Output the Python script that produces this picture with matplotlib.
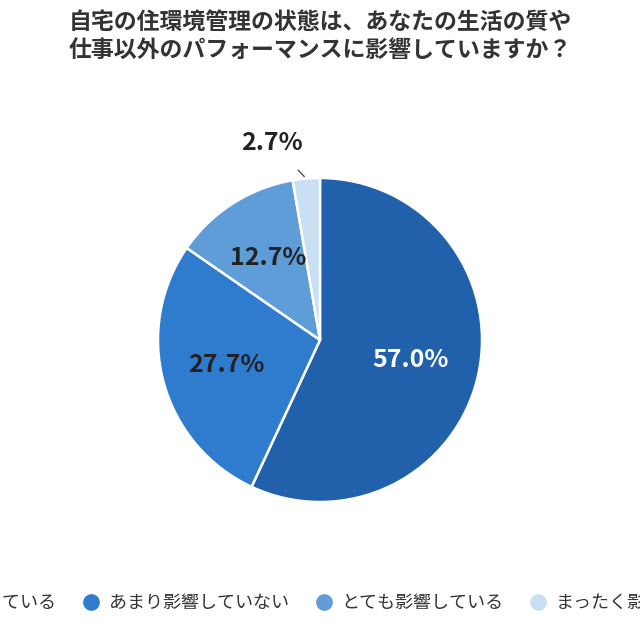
import numpy as np
import matplotlib
matplotlib.use('Agg')
import matplotlib.pyplot as plt

plt.rcParams['font.family'] = ['Noto Sans CJK JP', 'DejaVu Sans']

title = '自宅の住環境管理の状態は、あなたの生活の質や\n仕事以外のパフォーマンスに影響していますか？'
categories = ['やや影響している', 'あまり影響していない', 'とても影響している', 'まったく影響していない']
values = [57.0, 27.7, 12.7, 2.7]
colors = ['#2160aa', '#2f7ccf', '#5f9dd9', '#c9dff4']
label_colors = ['white', '#222222', '#222222', '#222222']
label_r = [0.57, 0.6, 0.6, None]

fig = plt.figure(figsize=(6.4, 6.4), dpi=100)
fig.text(0.5, 0.943, title, ha='center', va='center', fontsize=16.5,
         fontweight='bold', color='#333333', linespacing=1.3)

cy = 1 - 340 / 640
r = 162 / 640
ax = fig.add_axes([0.5 - r, cy - r, 2 * r, 2 * r])
wedges, _ = ax.pie(values, colors=colors, startangle=90, counterclock=False,
                   radius=1, wedgeprops=dict(edgecolor='white', linewidth=1.8))
ax.set_xlim(-1, 1)
ax.set_ylim(-1, 1)
ax.set_aspect('equal')
ax.axis('off')

for w, v, c, lr in zip(wedges, values, label_colors, label_r):
    ang = np.deg2rad((w.theta1 + w.theta2) / 2)
    txt = f'{v:.1f}%'
    if lr is not None:
        ax.text(lr * np.cos(ang), lr * np.sin(ang), txt, ha='center', va='center',
                fontsize=18, fontweight='bold', color=c)
    else:
        tx, ty = 1.24 * np.cos(np.deg2rad(103.8)), 1.25 * np.sin(np.deg2rad(103.8))
        ax.annotate(txt, xy=(1.0 * np.cos(ang), 1.0 * np.sin(ang)), xytext=(tx, ty),
                    ha='center', va='center', fontsize=18, fontweight='bold',
                    color='#222222', annotation_clip=False,
                    arrowprops=dict(arrowstyle='-', color='#555555', lw=1,
                                    shrinkA=12, shrinkB=2))

handles = [plt.Line2D([], [], marker='o', linestyle='', markersize=11,
                      markerfacecolor=col, markeredgecolor=col) for col in colors]
fig.legend(handles, categories, loc='center', bbox_to_anchor=(0.5, 1 - 603 / 640),
           ncol=4, frameon=False, fontsize=13, handlelength=1.0,
           handletextpad=0.5, columnspacing=1.4, labelcolor='#333333')

fig.savefig('out.png', dpi=100)
